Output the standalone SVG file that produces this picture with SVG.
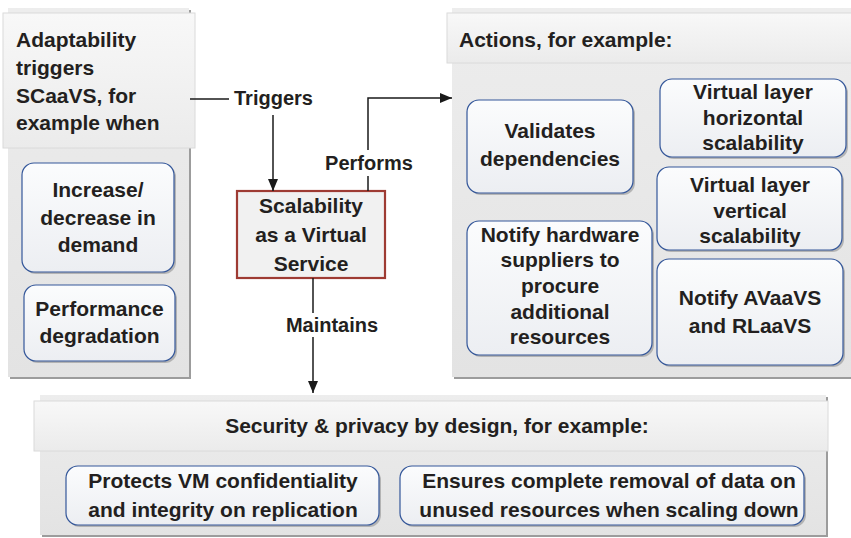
<svg xmlns="http://www.w3.org/2000/svg" width="851" height="538" viewBox="0 0 851 538">
<defs>
<linearGradient id="gPanel" x1="0" y1="0" x2="0" y2="1">
<stop offset="0" stop-color="#ededed"/><stop offset="1" stop-color="#e3e3e3"/>
</linearGradient>
<linearGradient id="gHead" x1="0" y1="0" x2="0" y2="1">
<stop offset="0" stop-color="#f8f8f8"/><stop offset="1" stop-color="#ebebeb"/>
</linearGradient>
<linearGradient id="gBox" x1="0" y1="0" x2="0" y2="1">
<stop offset="0" stop-color="#fbfcfd"/><stop offset="1" stop-color="#eceef2"/>
</linearGradient>
<marker id="arr" viewBox="0 0 12 10" refX="12" refY="5" markerWidth="12" markerHeight="10" markerUnits="userSpaceOnUse" orient="auto">
<path d="M0,0 L12,5 L0,10 z" fill="#1a1a1a"/>
</marker>
<style>
text{font-family:"Liberation Sans",Arial,Helvetica,sans-serif;font-weight:bold;font-size:21px;fill:#231f20}
.c{text-anchor:middle}
.lbl{font-size:20px}
.pshadow{fill:#9c9c9c}
.panel{fill:url(#gPanel)}
.head{fill:url(#gHead);stroke:#dadada;stroke-width:1}
.bshadow{fill:#8a8a8a;opacity:0.55}
.box{fill:url(#gBox);stroke:#34579a;stroke-width:1.2}
.ln{fill:none;stroke:#1a1a1a;stroke-width:1.5}
</style>
</defs>

<g id="left-panel">
<rect class="pshadow" x="10" y="10" width="181" height="369"/>
<rect class="panel" x="8" y="8" width="181" height="369"/>
<rect class="head" x="3" y="13" width="192" height="135"/>
<text x="16" y="47">Adaptability</text>
<text x="16" y="75">triggers</text>
<text x="16" y="103">SCaaVS, for</text>
<text x="16" y="130">example when</text>
</g>
<g id="increase-decrease">
<rect class="bshadow" x="24" y="165" width="152" height="109" rx="12"/>
<rect class="box" x="22" y="163" width="152" height="109" rx="12"/>
<text class="c" x="98" y="197">Increase/</text>
<text class="c" x="98" y="225">decrease in</text>
<text class="c" x="98" y="252">demand</text>
</g>
<g id="performance-degradation">
<rect class="bshadow" x="26" y="287" width="151" height="76" rx="12"/>
<rect class="box" x="24" y="285" width="151" height="76" rx="12"/>
<text class="c" x="99.5" y="316">Performance</text>
<text class="c" x="99.5" y="343">degradation</text>
</g>

<g id="right-panel">
<rect class="pshadow" x="454" y="10" width="400" height="369"/>
<rect class="panel" x="452" y="8" width="400" height="369"/>
<rect class="head" x="447" y="13" width="410" height="50"/>
<text x="459" y="47">Actions, for example:</text>
</g>
<g id="validates">
<rect class="bshadow" x="469" y="102" width="166" height="93" rx="12"/>
<rect class="box" x="467" y="100" width="166" height="93" rx="12"/>
<text class="c" x="550" y="138">Validates</text>
<text class="c" x="550" y="166">dependencies</text>
</g>
<g id="horizontal">
<rect class="bshadow" x="662" y="81" width="186" height="78" rx="12"/>
<rect class="box" x="660" y="79" width="186" height="78" rx="12"/>
<text class="c" x="753" y="99">Virtual layer</text>
<text class="c" x="753" y="125">horizontal</text>
<text class="c" x="753" y="150">scalability</text>
</g>
<g id="vertical">
<rect class="bshadow" x="659" y="169" width="185" height="83" rx="12"/>
<rect class="box" x="657" y="167" width="185" height="83" rx="12"/>
<text class="c" x="750" y="192">Virtual layer</text>
<text class="c" x="750" y="218">vertical</text>
<text class="c" x="750" y="243">scalability</text>
</g>
<g id="notify-hardware">
<rect class="bshadow" x="469" y="223" width="185" height="134" rx="12"/>
<rect class="box" x="467" y="221" width="185" height="134" rx="12"/>
<text class="c" x="560" y="242">Notify hardware</text>
<text class="c" x="560" y="267">suppliers to</text>
<text class="c" x="560" y="293">procure</text>
<text class="c" x="560" y="319">additional</text>
<text class="c" x="560" y="344">resources</text>
</g>
<g id="notify-avaavs">
<rect class="bshadow" x="659" y="261" width="186" height="106" rx="12"/>
<rect class="box" x="657" y="259" width="186" height="106" rx="12"/>
<text class="c" x="750" y="305">Notify AVaaVS</text>
<text class="c" x="750" y="333">and RLaaVS</text>
</g>

<g id="bottom-panel">
<rect class="pshadow" x="42" y="397" width="786" height="140"/>
<rect class="panel" x="40" y="395" width="786" height="140"/>
<rect class="head" x="34" y="401" width="794" height="50"/>
<text class="c" x="437" y="433">Security &amp; privacy by design, for example:</text>
</g>
<g id="protects">
<rect class="bshadow" x="68" y="468" width="313" height="59" rx="12"/>
<rect class="box" x="66" y="466" width="313" height="59" rx="12"/>
<text class="c" x="223" y="488">Protects VM confidentiality</text>
<text class="c" x="223" y="517">and integrity on replication</text>
</g>
<g id="ensures">
<rect class="bshadow" x="402" y="468" width="404" height="59" rx="12"/>
<rect class="box" x="400" y="466" width="404" height="59" rx="12"/>
<text class="c" x="609" y="488">Ensures complete removal of data on</text>
<text class="c" x="609" y="517">unused resources when scaling down</text>
</g>

<g id="scaas">
<rect x="237" y="191" width="148" height="87" fill="#f1f1f1" stroke="#9e3b33" stroke-width="2.2"/>
<text class="c" x="311" y="213">Scalability</text>
<text class="c" x="311" y="242">as a Virtual</text>
<text class="c" x="311" y="271">Service</text>
</g>

<g id="connectors">
<path class="ln" d="M190,99 H229"/>
<path class="ln" d="M273,115 V191" marker-end="url(#arr)"/>
<path class="ln" d="M368,191 V176"/>
<path class="ln" d="M368,150 V98 H452" marker-end="url(#arr)"/>
<path class="ln" d="M313,278 V313"/>
<path class="ln" d="M313,337 V393" marker-end="url(#arr)"/>
<text class="lbl" x="234" y="105">Triggers</text>
<text class="lbl c" x="369" y="170">Performs</text>
<text class="lbl c" x="332" y="332">Maintains</text>
</g>
</svg>
